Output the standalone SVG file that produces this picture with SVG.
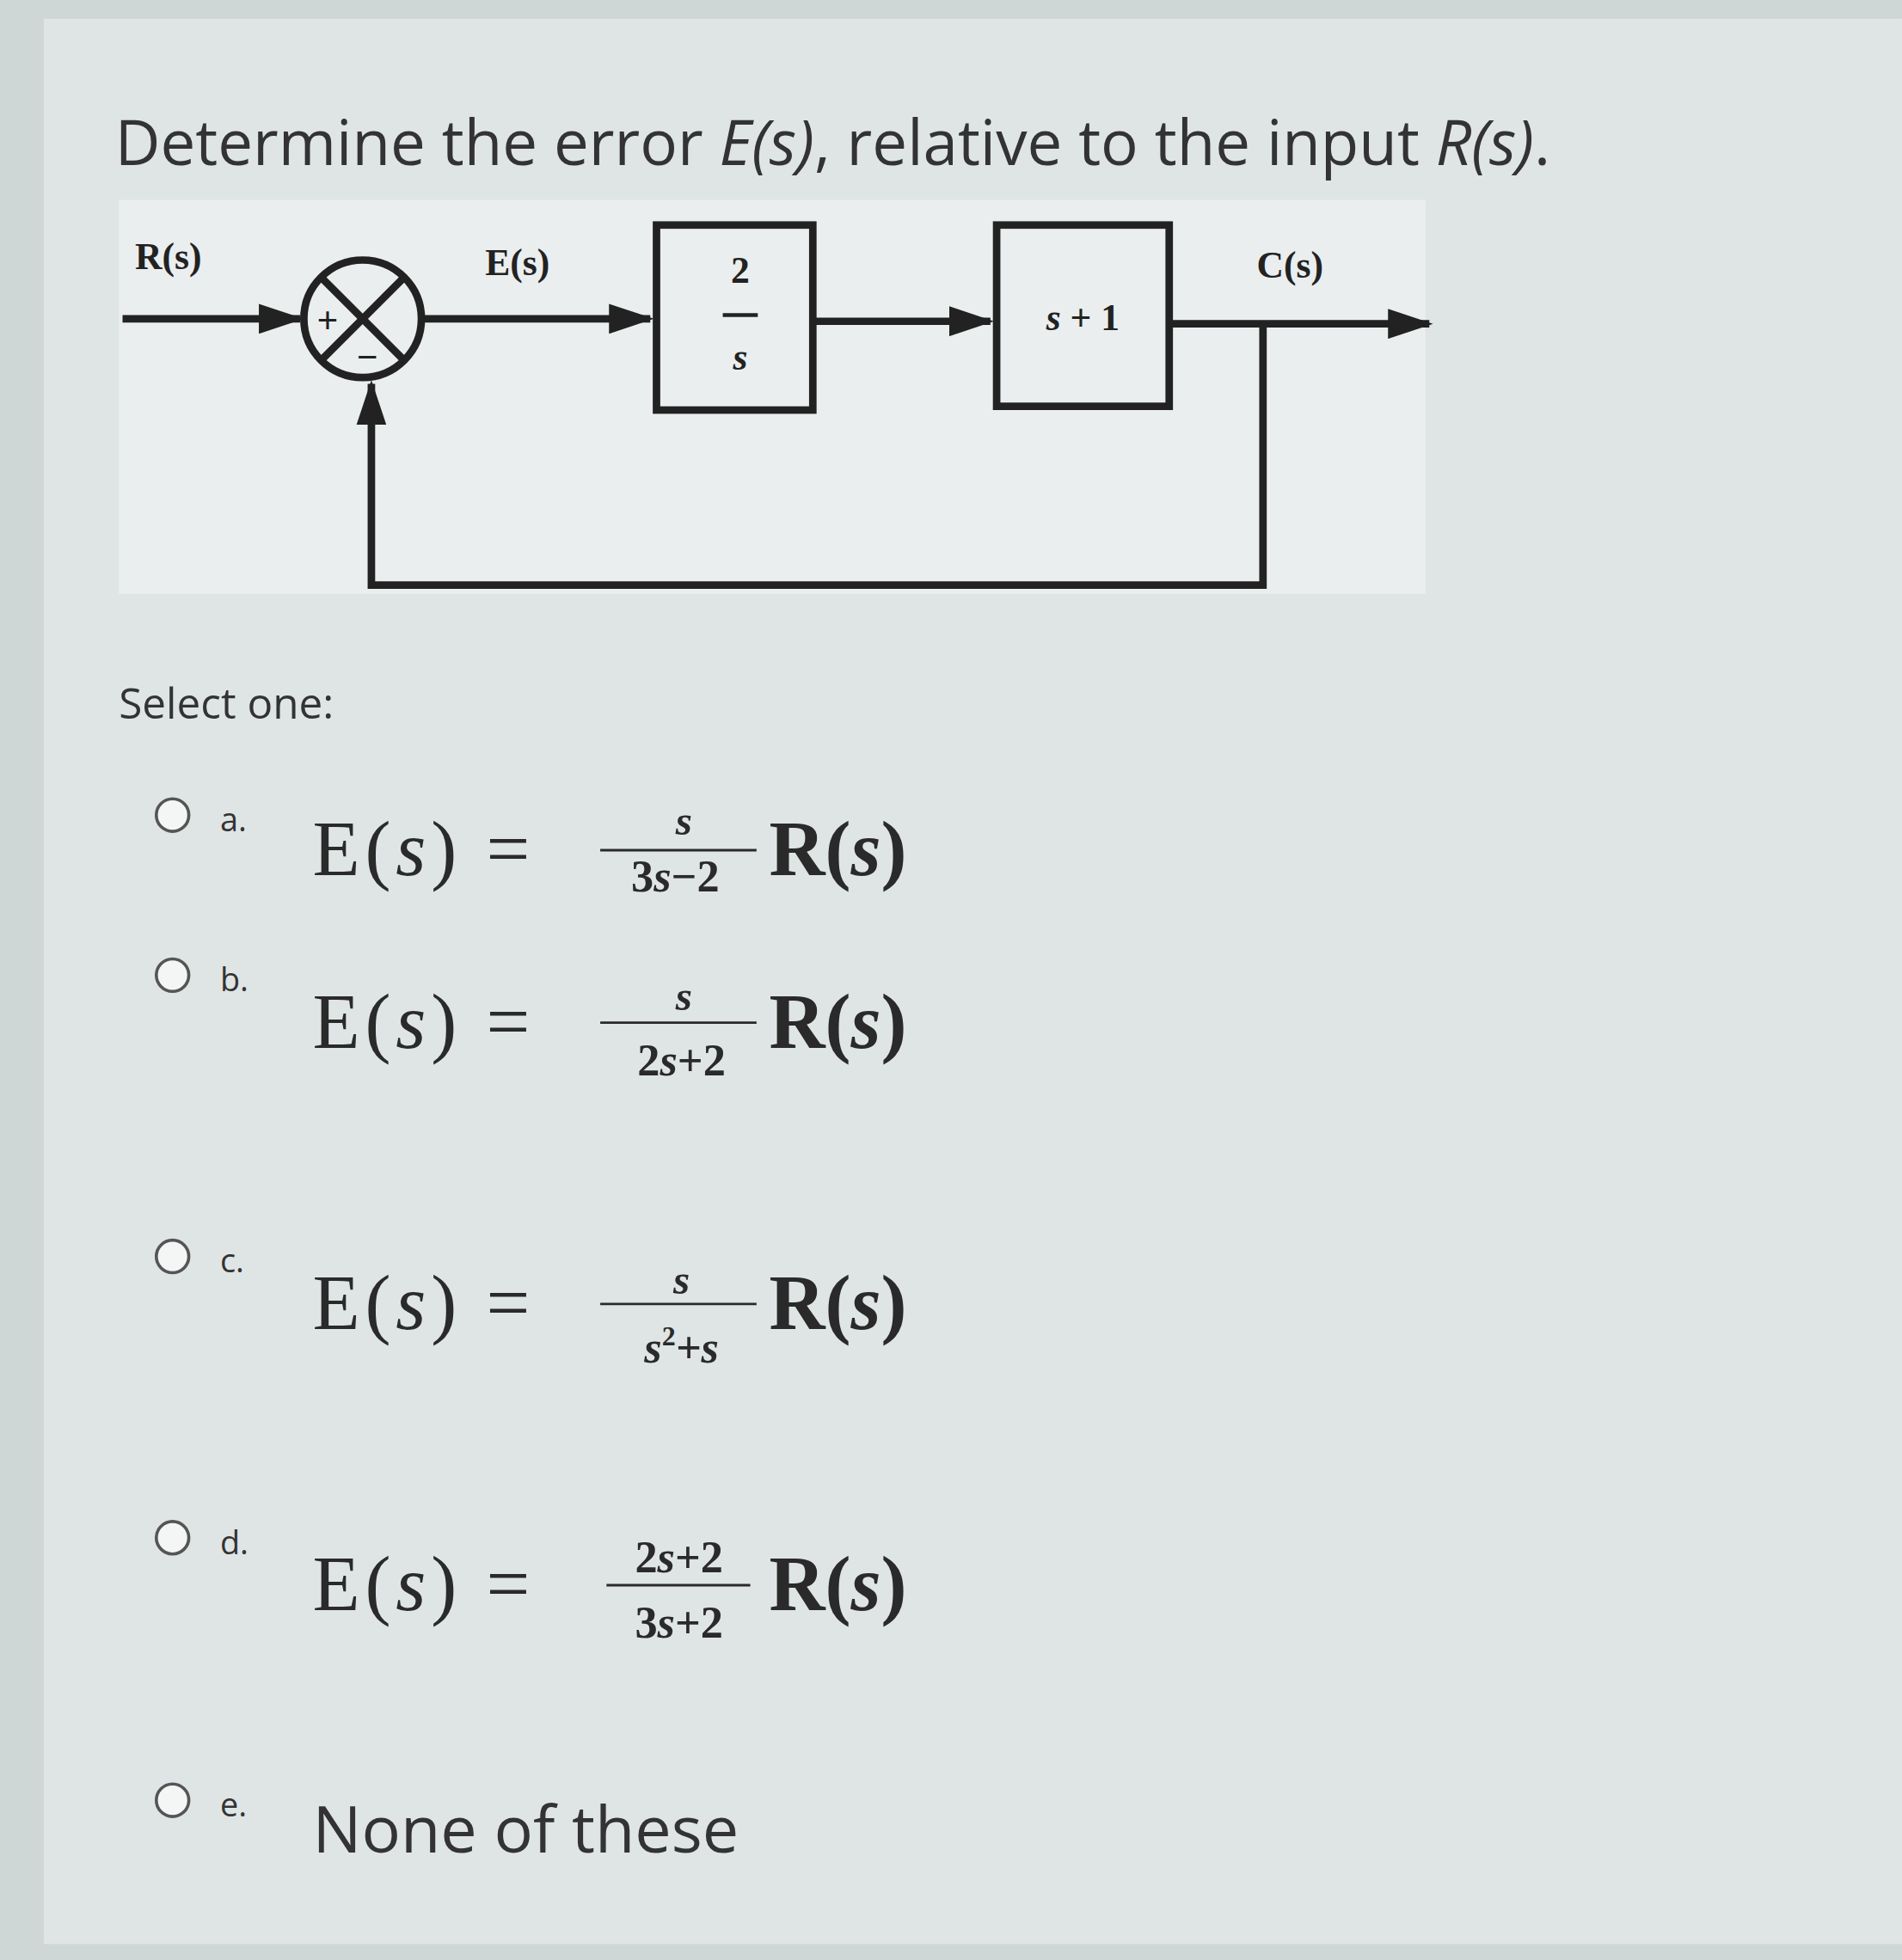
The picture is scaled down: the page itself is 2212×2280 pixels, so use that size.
<svg xmlns="http://www.w3.org/2000/svg" width="2212" height="2280" viewBox="0 0 2212 2280">
<defs>
<marker id="ah" markerWidth="6" markerHeight="4" refX="5.5" refY="2" orient="auto" markerUnits="strokeWidth"><path d="M0,0 L6,2 L0,4 z" fill="#222"/></marker>
<style>
.t{font-family:"Open Sans","Noto Sans",sans-serif;fill:#333}
.m{font-family:"Liberation Serif",serif;fill:#2a2a2a}
.lbl{font-family:"Liberation Serif",serif;font-weight:bold;fill:#222;font-size:30px}
.ln{stroke:#222;stroke-width:6;fill:none}
.rb{fill:#f4f6f6;stroke:#555;stroke-width:2.5}
</style>
</defs>
<rect width="2212" height="2280" fill="#cfd6d6"/>
<g transform="scale(1.4543)">
<rect x="35" y="15" width="1486" height="1540" fill="#dfe5e5"/>
<text class="t" x="92" y="132" font-size="50">Determine the error <tspan font-style="italic">E(s)</tspan>, relative to the input <tspan font-style="italic">R(s)</tspan>.</text>
<rect x="95" y="160" width="1045" height="315" fill="#eaeeee"/>
<g id="sum"><circle cx="290" cy="255" r="47" fill="#fff" class="ln"/>
<line class="ln" x1="257" y1="222" x2="323" y2="288"/><line class="ln" x1="323" y1="222" x2="257" y2="288"/>
<text class="lbl" x="262" y="266" text-anchor="middle">+</text><text class="lbl" x="294" y="296" text-anchor="middle">−</text></g>
<g id="g1"><rect x="525" y="180" width="125" height="148" fill="#fff" class="ln"/>
<text class="lbl" x="592" y="226" text-anchor="middle">2</text><line x1="578" y1="252" x2="606" y2="252" stroke="#222" stroke-width="3"/><text class="lbl" x="592" y="296" text-anchor="middle" font-style="italic">s</text></g>
<g id="g2"><rect x="797" y="180" width="138" height="145" fill="#fff" class="ln"/>
<text class="lbl" x="866" y="264" text-anchor="middle"><tspan font-style="italic">s</tspan> + 1</text></g>
<g id="labels"><text class="lbl" x="108" y="215">R(s)</text><text class="lbl" x="388" y="220">E(s)</text><text class="lbl" x="1005" y="222" font-weight="normal">C(s)</text></g>
<g id="connectors">
<line class="ln" x1="98" y1="255" x2="240" y2="255" marker-end="url(#ah)"/>
<line class="ln" x1="338" y1="255" x2="520" y2="255" marker-end="url(#ah)"/>
<line class="ln" x1="650" y1="257" x2="792" y2="257" marker-end="url(#ah)"/>
<line class="ln" x1="935" y1="259" x2="1143" y2="259" marker-end="url(#ah)"/>
<polyline class="ln" points="1010,259 1010,468 297,468 297,307" marker-end="url(#ah)"/>
</g>
<text class="t" x="95" y="575" font-size="34">Select one:</text>
<g id="options">
<circle class="rb" cx="138" cy="652" r="13"/><text class="t" x="176" y="665" font-size="26">a.</text>
<text class="m" x="250" y="700" font-size="62" letter-spacing="4">E(<tspan font-style="italic">s</tspan>) =</text>
<text class="m" x="547" y="668" font-size="34" font-style="italic" text-anchor="middle" font-weight="bold">s</text><line x1="480" y1="680" x2="605" y2="680" stroke="#2a2a2a" stroke-width="2"/><text class="m" x="540" y="713" font-size="36" text-anchor="middle" font-weight="bold">3<tspan font-style="italic">s</tspan>−2</text>
<text class="m" x="615" y="700" font-size="62" font-weight="bold">R(<tspan font-style="italic">s</tspan>)</text>

<circle class="rb" cx="138" cy="780" r="13"/><text class="t" x="176" y="793" font-size="26">b.</text>
<text class="m" x="250" y="838" font-size="62" letter-spacing="4">E(<tspan font-style="italic">s</tspan>) =</text>
<text class="m" x="547" y="808" font-size="34" font-style="italic" text-anchor="middle" font-weight="bold">s</text><line x1="480" y1="818" x2="605" y2="818" stroke="#2a2a2a" stroke-width="2"/><text class="m" x="545" y="860" font-size="36" text-anchor="middle" font-weight="bold">2<tspan font-style="italic">s</tspan>+2</text>
<text class="m" x="615" y="838" font-size="62" font-weight="bold">R(<tspan font-style="italic">s</tspan>)</text>

<circle class="rb" cx="138" cy="1005" r="13"/><text class="t" x="176" y="1018" font-size="26">c.</text>
<text class="m" x="250" y="1063" font-size="62" letter-spacing="4">E(<tspan font-style="italic">s</tspan>) =</text>
<text class="m" x="545" y="1035" font-size="34" font-style="italic" text-anchor="middle" font-weight="bold">s</text><line x1="480" y1="1043" x2="605" y2="1043" stroke="#2a2a2a" stroke-width="2"/><text class="m" x="545" y="1090" font-size="36" text-anchor="middle" font-weight="bold" font-style="italic">s<tspan font-size="22" dy="-14" font-style="normal">2</tspan><tspan dy="14">+s</tspan></text>
<text class="m" x="615" y="1063" font-size="62" font-weight="bold">R(<tspan font-style="italic">s</tspan>)</text>

<circle class="rb" cx="138" cy="1230" r="13"/><text class="t" x="176" y="1243" font-size="26">d.</text>
<text class="m" x="250" y="1288" font-size="62" letter-spacing="4">E(<tspan font-style="italic">s</tspan>) =</text>
<text class="m" x="543" y="1258" font-size="36" text-anchor="middle" font-weight="bold">2<tspan font-style="italic">s</tspan>+2</text><line x1="485" y1="1268" x2="600" y2="1268" stroke="#2a2a2a" stroke-width="2"/><text class="m" x="543" y="1310" font-size="36" text-anchor="middle" font-weight="bold">3<tspan font-style="italic">s</tspan>+2</text>
<text class="m" x="615" y="1288" font-size="62" font-weight="bold">R(<tspan font-style="italic">s</tspan>)</text>

<circle class="rb" cx="138" cy="1440" r="13"/><text class="t" x="176" y="1453" font-size="26">e.</text>
<text class="t" x="250" y="1482" font-size="52">None of these</text>
</g>
</g>
</svg>
